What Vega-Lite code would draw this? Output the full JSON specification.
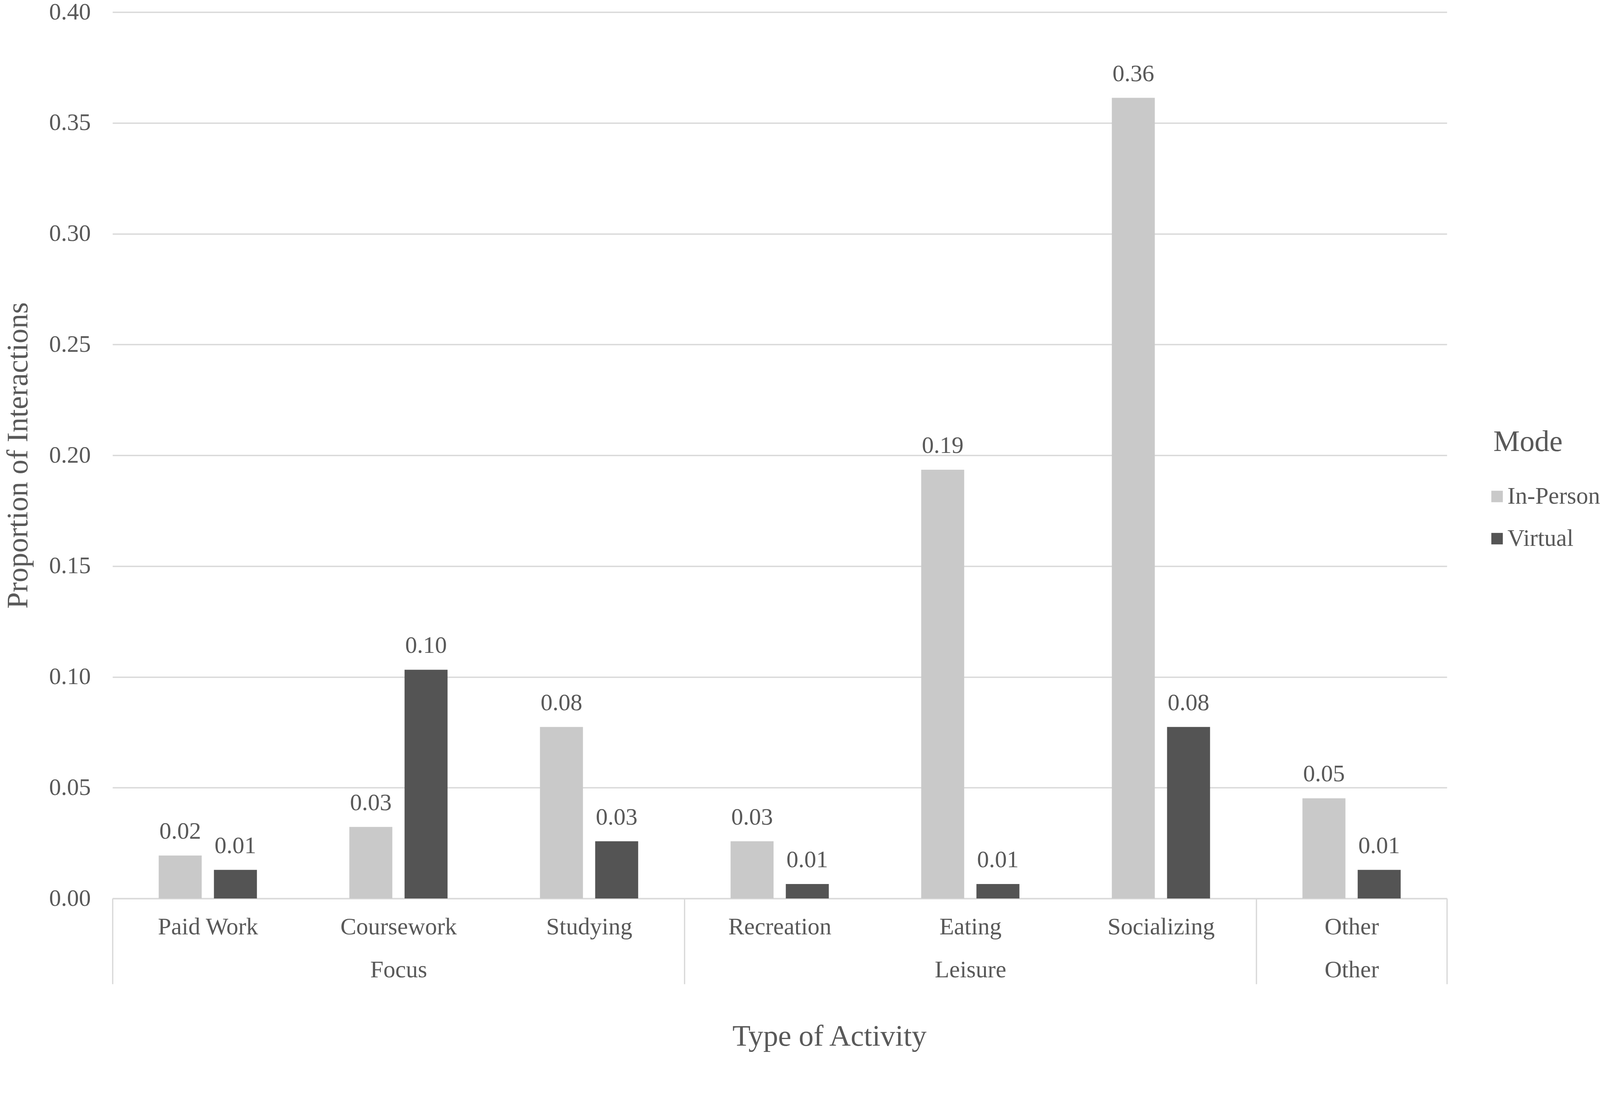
{
  "$schema": "https://vega.github.io/schema/vega-lite/v6.json",
  "width": 3416,
  "height": 2270,
  "autosize": {"type": "none"},
  "padding": {"left": 288, "top": 31, "right": 392, "bottom": 406},
  "background": "white",
  "config": {
    "view": {"stroke": null},
    "font": "Liberation Serif",
    "axis": {
      "labelFont": "Liberation Serif",
      "titleFont": "Liberation Serif",
      "labelColor": "#595959",
      "titleColor": "#595959",
      "labelFontSize": 61,
      "titleFontSize": 76,
      "titleFontWeight": "normal"
    },
    "legend": {
      "labelFont": "Liberation Serif",
      "titleFont": "Liberation Serif",
      "labelColor": "#595959",
      "titleColor": "#595959",
      "titleFontWeight": "normal"
    }
  },
  "data": {
    "values": [
      {"Activity": "Paid Work", "Group": "Focus", "Mode": "In-Person", "Value": 0.0194},
      {"Activity": "Paid Work", "Group": "Focus", "Mode": "Virtual", "Value": 0.0129},
      {"Activity": "Coursework", "Group": "Focus", "Mode": "In-Person", "Value": 0.0323},
      {"Activity": "Coursework", "Group": "Focus", "Mode": "Virtual", "Value": 0.1032},
      {"Activity": "Studying", "Group": "Focus", "Mode": "In-Person", "Value": 0.0774},
      {"Activity": "Studying", "Group": "Focus", "Mode": "Virtual", "Value": 0.0258},
      {"Activity": "Recreation", "Group": "Leisure", "Mode": "In-Person", "Value": 0.0258},
      {"Activity": "Recreation", "Group": "Leisure", "Mode": "Virtual", "Value": 0.0065},
      {"Activity": "Eating", "Group": "Leisure", "Mode": "In-Person", "Value": 0.1935},
      {"Activity": "Eating", "Group": "Leisure", "Mode": "Virtual", "Value": 0.0065},
      {"Activity": "Socializing", "Group": "Leisure", "Mode": "In-Person", "Value": 0.3613},
      {"Activity": "Socializing", "Group": "Leisure", "Mode": "Virtual", "Value": 0.0774},
      {"Activity": "Other", "Group": "Other", "Mode": "In-Person", "Value": 0.0452},
      {"Activity": "Other", "Group": "Other", "Mode": "Virtual", "Value": 0.0129}
    ]
  },
  "encoding": {
    "x": {
      "field": "Activity",
      "type": "nominal",
      "scale": {
        "domain": ["Paid Work", "Coursework", "Studying", "Recreation", "Eating", "Socializing", "Other"],
        "paddingInner": 0,
        "paddingOuter": 0
      },
      "axis": {
        "title": "Type of Activity",
        "labelAngle": 0,
        "labelBaseline": "top",
        "labelPadding": -176,
        "labelLineHeight": 110,
        "labelOverlap": false,
        "labelLimit": 0,
        "labelExpr": "datum.label == 'Coursework' ? ['Coursework', 'Focus'] : datum.label == 'Eating' ? ['Eating', 'Leisure'] : datum.label == 'Other' ? ['Other', 'Other'] : datum.label",
        "ticks": true,
        "tickBand": "extent",
        "tickSize": 219,
        "tickColor": "#d9d9d9",
        "tickWidth": 3.3,
        "tickOpacity": {
          "condition": {"test": "datum.extra || datum.value == 'Studying' || datum.value == 'Socializing' || datum.value == 'Other'", "value": 1},
          "value": 0
        },
        "grid": false,
        "domainColor": "#d9d9d9",
        "domainWidth": 3.3,
        "titleX": 1835,
        "titleY": 376,
        "titleAlign": "center",
        "titleBaseline": "alphabetic"
      }
    },
    "y": {
      "field": "Value",
      "type": "quantitative",
      "scale": {"domain": [0, 0.4]},
      "axis": {
        "title": "Proportion of Interactions",
        "values": [0, 0.05, 0.1, 0.15, 0.2, 0.25, 0.3, 0.35, 0.4],
        "format": ".2f",
        "domain": false,
        "ticks": false,
        "labelPadding": 56,
        "gridColor": "#d9d9d9",
        "gridWidth": 3.3,
        "titleX": -219,
        "titleBaseline": "alphabetic"
      }
    }
  },
  "layer": [
    {
      "mark": {"type": "bar"},
      "encoding": {
        "xOffset": {
          "field": "Mode",
          "type": "nominal",
          "scale": {"paddingInner": 0.2215, "paddingOuter": 0.8366}
        },
        "color": {
          "field": "Mode",
          "type": "nominal",
          "scale": {"domain": ["In-Person", "Virtual"], "range": ["#c9c9c9", "#545454"]},
          "legend": {
            "title": "Mode",
            "orient": "none",
            "legendX": 3535,
            "legendY": 1064,
            "padding": 0,
            "titleFontSize": 76,
            "titlePadding": 70,
            "labelFontSize": 61,
            "labelOffset": -4,
            "labelLimit": 600,
            "rowPadding": 46,
            "symbolOffset": -21,
            "symbolType": "square",
            "symbolSize": 865,
            "symbolStrokeWidth": 0
          }
        }
      }
    },
    {
      "mark": {"type": "text", "baseline": "alphabetic", "dy": -43, "fontSize": 61, "color": "#595959", "font": "Liberation Serif"},
      "encoding": {
        "xOffset": {"field": "Mode", "type": "nominal"},
        "text": {"field": "Value", "type": "quantitative", "format": ".2f"}
      }
    }
  ]
}
